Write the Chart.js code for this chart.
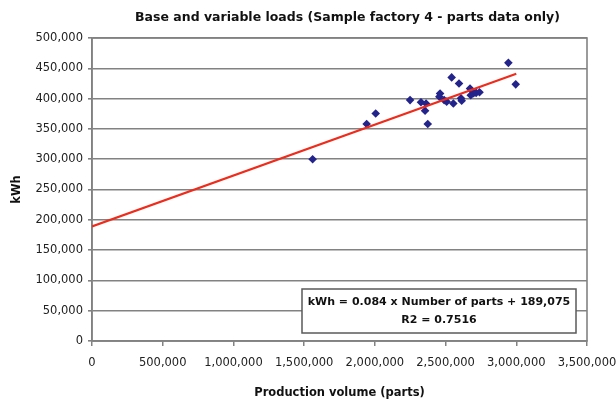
<!DOCTYPE html>
<html>
<head>
<meta charset="utf-8">
<script src="https://cdn.jsdelivr.net/npm/chart.js@4.4.0/dist/chart.umd.min.js"></script>
<style>
  html, body { margin: 0; padding: 0; background: #fff; }
  #wrap { width: 616px; height: 401px; }
</style>
</head>
<body>
<div id="wrap"><canvas id="c" width="616" height="401"></canvas></div>
<script>
// Monthly observations: parts produced vs. electricity used
const productionVolume = [
  1560000, 1942000, 2006000, 2249000, 2326000, 2362000, 2355000, 2374000,
  2456000, 2461000, 2490000, 2508000, 2543000, 2555000, 2595000, 2609000,
  2614000, 2673000, 2678000, 2698000, 2716000, 2740000, 2944000, 2996000
];
const energyKWh = [
  300000, 358000, 375500, 397500, 394000, 392000, 380000, 358000,
  403000, 408500, 397500, 395000, 435000, 392000, 425000, 400500,
  396500, 416500, 405500, 409000, 409500, 410500, 459000, 423500
];

// Linear fit reported on the chart
const fitSlope = 0.084;
const fitIntercept = 189075;
const fitR2 = 0.7516;
const fitRange = [0, 3000000];

// Axis ranges
const xTickValues = [0, 500000, 1000000, 1500000, 2000000, 2500000, 3000000, 3500000];
const yTickValues = [0, 50000, 100000, 150000, 200000, 250000, 300000, 350000, 400000, 450000, 500000];

const chartTitle = 'Base and variable loads (Sample factory 4 - parts data only)';

const fmt = v => Number(v).toLocaleString('en-US');
const FONT = "'DejaVu Sans', sans-serif";
const GRID = '#828282';

const scatterPoints = productionVolume.map((x, i) => ({ x, y: energyKWh[i] }));
const fitPoints = fitRange.map(x => ({ x, y: fitSlope * x + fitIntercept }));

// Frame around the plotting area, plus the heading above it
const frame = {
  id: 'frame',
  beforeDatasetsDraw(chart) {
    const { ctx, chartArea: a } = chart;
    ctx.save();
    ctx.strokeStyle = GRID;
    ctx.lineWidth = 1.6;
    ctx.strokeRect(a.left, a.top, a.right - a.left, a.bottom - a.top);
    ctx.fillStyle = '#111';
    ctx.font = "bold 12.5px " + FONT;
    ctx.textAlign = 'center';
    ctx.textBaseline = 'middle';
    ctx.fillText(chartTitle, (a.left + a.right) / 2 + 8, 18);
    ctx.restore();
  }
};

// Equation box in the lower right corner of the plot
const equationBox = {
  id: 'equationBox',
  afterDatasetsDraw(chart) {
    const { ctx, chartArea: a } = chart;
    const w = 274, h = 44;
    const x = a.right - 11 - w, y = a.bottom - 8 - h;
    ctx.save();
    ctx.fillStyle = '#fff';
    ctx.fillRect(x, y, w, h);
    ctx.strokeStyle = '#5a5a5a';
    ctx.lineWidth = 1.5;
    ctx.strokeRect(x, y, w, h);
    ctx.fillStyle = '#111';
    ctx.font = "bold 11px " + FONT;
    ctx.textAlign = 'center';
    ctx.textBaseline = 'middle';
    const cx = x + w / 2;
    ctx.fillText('kWh = ' + fitSlope.toFixed(3) + ' x Number of parts + ' + fmt(fitIntercept), cx, y + 13);
    ctx.fillText('R2 = ' + fitR2.toFixed(4), cx, y + 31);
    ctx.restore();
  }
};

new Chart(document.getElementById('c'), {
  data: {
    datasets: [
      {
        type: 'line',
        label: 'Linear fit',
        data: fitPoints,
        borderColor: '#ef2c1c',
        borderWidth: 2.2,
        pointRadius: 0,
        fill: false,
        order: 0
      },
      {
        type: 'scatter',
        label: 'kWh',
        data: scatterPoints,
        pointStyle: 'rectRot',
        pointRadius: 4.3,
        backgroundColor: '#23238c',
        borderColor: '#23238c',
        borderWidth: 0,
        order: 1
      }
    ]
  },
  plugins: [frame, equationBox],
  options: {
    responsive: false,
    animation: false,
    layout: { padding: { left: 0, right: 29, top: 38, bottom: 0 } },
    plugins: {
      legend: { display: false },
      tooltip: { enabled: false },
      title: { display: false }
    },
    scales: {
      x: {
        type: 'linear',
        position: 'bottom',
        min: 0,
        max: 3500000,
        afterBuildTicks: s => { s.ticks = xTickValues.map(v => ({ value: v })); },
        afterFit: s => { s.height = 60; s.paddingRight = 0; s.paddingLeft = 0; },
        ticks: {
          callback: v => fmt(v),
          color: '#222',
          font: { family: FONT, size: 11.5 },
          padding: 10,
          maxRotation: 0,
          autoSkip: false
        },
        grid: { drawOnChartArea: false, drawTicks: true, tickLength: 5, color: GRID, lineWidth: 1.5 },
        border: { display: true, color: GRID, width: 1.6 },
        title: {
          display: true,
          text: 'Production volume (parts)',
          color: '#111',
          font: { family: FONT, size: 11.5, weight: 'bold' },
          padding: { top: 0, bottom: 1 }
        }
      },
      y: {
        type: 'linear',
        min: 0,
        max: 500000,
        afterBuildTicks: s => { s.ticks = yTickValues.map(v => ({ value: v })); },
        afterFit: s => { s.width = 92; s.paddingTop = 0; s.paddingBottom = 0; },
        ticks: {
          callback: v => fmt(v),
          color: '#222',
          font: { family: FONT, size: 11.5 },
          padding: 5
        },
        grid: { drawTicks: true, tickLength: 4, color: GRID, lineWidth: 1.6 },
        border: { display: true, color: GRID, width: 1.6 },
        title: {
          display: true,
          text: 'kWh',
          color: '#111',
          font: { family: FONT, size: 11.5, weight: 'bold' },
          padding: { top: 10, bottom: 0 }
        }
      }
    }
  }
});
</script>
</body>
</html>
